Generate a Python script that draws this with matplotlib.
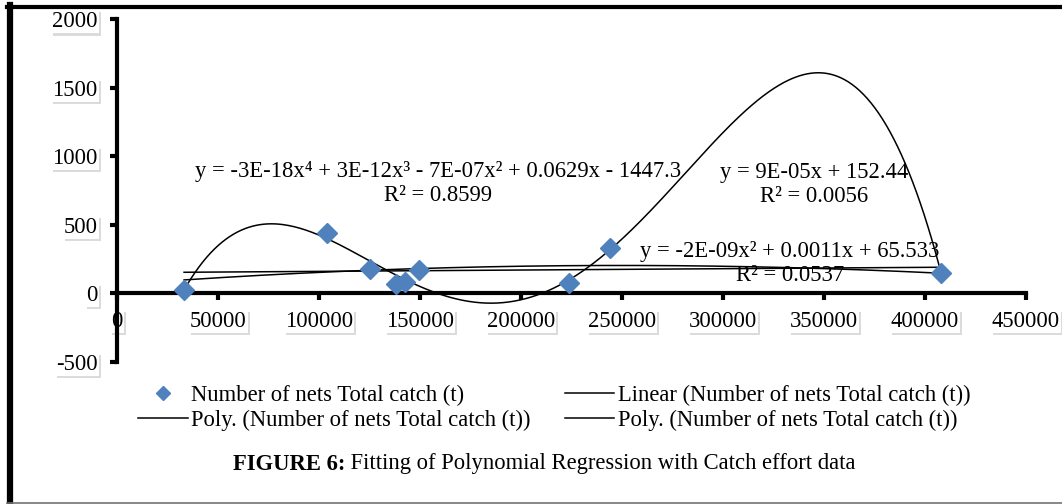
#!/usr/bin/env python3
import numpy as np
import matplotlib
matplotlib.use("Agg")
import matplotlib.pyplot as plt
import matplotlib.patheffects as pe
from matplotlib.lines import Line2D
from matplotlib.transforms import IdentityTransform

# values
nets = [33200, 104000, 125300, 138100, 142600, 149500, 223800, 244000, 408000]
catch = [22, 440, 176, 66, 80, 168, 73, 330, 146]

x_ticks = [0, 50000, 100000, 150000, 200000, 250000, 300000, 350000, 400000, 450000]
y_ticks = [-500, 0, 500, 1000, 1500, 2000]

series_label = "Number of nets Total catch (t)"
eq_poly4 = "y = -3E-18x\u2074 + 3E-12x\u00b3 - 7E-07x\u00b2 + 0.0629x - 1447.3\nR\u00b2 = 0.8599"
eq_linear = "y = 9E-05x + 152.44\nR\u00b2 = 0.0056"
eq_poly2 = "y = -2E-09x\u00b2 + 0.0011x + 65.533\nR\u00b2 = 0.0537"
caption_bold = "FIGURE 6:"
caption_rest = " Fitting of Polynomial Regression with Catch effort data"

plt.rcParams["font.family"] = ["Liberation Serif", "DejaVu Serif"]
plt.rcParams["font.size"] = 16.3

W, H = 1062, 504
fig = plt.figure(figsize=(W / 100, H / 100), dpi=100)
ax = fig.add_axes([117 / W, 1 - 361.7 / H, 909 / W, 342.4 / H])

x = np.array(nets, dtype=float)
y = np.array(catch, dtype=float)
xs = np.linspace(x.min(), x.max(), 400)

# trendlines fitted to the points
fits = {}
for deg in (1, 2, 4):
    fits[deg] = np.polyval(np.polyfit(x, y, deg), xs)

sc, = ax.plot(x, y, "D", color="#4F81BD", ms=10, zorder=5,
              label=series_label)
l4, = ax.plot(xs, fits[4], color="black", lw=1.1,
              label="Poly. (" + series_label + ")")
l1, = ax.plot(xs, fits[1], color="black", lw=1.1,
              label="Linear (" + series_label + ")")
l2, = ax.plot(xs, fits[2], color="black", lw=1.1,
              label="Poly. (" + series_label + ")")

ax.set_xlim(0, 450000)
ax.set_ylim(-500, 2000)
ax.set_xticks(x_ticks)
ax.set_yticks(y_ticks)
ax.set_xticklabels([str(v) for v in x_ticks])
ax.set_yticklabels([str(v) for v in y_ticks])

for s in ("top", "right"):
    ax.spines[s].set_visible(False)
ax.spines["bottom"].set_position(("data", 0))
ax.spines["left"].set_linewidth(3)
ax.spines["bottom"].set_linewidth(3)
ax.tick_params(axis="y", direction="out", length=5, width=3, pad=9)
ax.tick_params(axis="x", direction="out", length=5, width=3, pad=8)
ax.patch.set_alpha(0)

# soft drop shadow behind the tick labels
shadow = [pe.SimplePatchShadow(offset=(1.5, -1.5), shadow_rgbFace="0.6", alpha=0.35),
          pe.Normal()]
for lab in ax.get_xticklabels() + ax.get_yticklabels():
    lab.set_bbox(dict(boxstyle="square,pad=0.05", fc="white", ec="none"))
    lab.get_bbox_patch().set_path_effects(shadow)

ax.text(159000, 800, eq_poly4, ha="center", va="center")
ax.text(345000, 795, eq_linear, ha="center", va="center")
ax.text(333000, 215, eq_poly2, ha="center", va="center")

fig.legend(handles=[sc, l4, l1, l2], ncol=2, loc="upper left",
           bbox_to_anchor=(138 / W, 1 - 385 / H), frameon=False,
           handlelength=2.2, handletextpad=0.15,
           columnspacing=1.5, labelspacing=0.15, borderpad=0,
           borderaxespad=0, markerscale=0.7)

t1 = fig.text(233 / W, 1 - 464 / H, caption_bold, fontweight="bold",
              ha="left", va="center")
fig.canvas.draw()
bb = t1.get_window_extent()
fig.text(bb.x1, bb.y0, caption_rest, ha="left", va="bottom",
         transform=IdentityTransform())

# outer frame of the figure
fig.add_artist(Line2D([10 / W, 10 / W], [0, 1 - 5 / H], color="black",
                      lw=4.5, transform=fig.transFigure))
fig.add_artist(Line2D([7 / W, 1], [1 - 7 / H, 1 - 7 / H], color="black",
                      lw=3, transform=fig.transFigure))
fig.add_artist(Line2D([7 / W, 1], [1.2 / H, 1.2 / H], color="0.45",
                      lw=1.2, transform=fig.transFigure))

fig.savefig("out.png", dpi=100)
plt.close(fig)
